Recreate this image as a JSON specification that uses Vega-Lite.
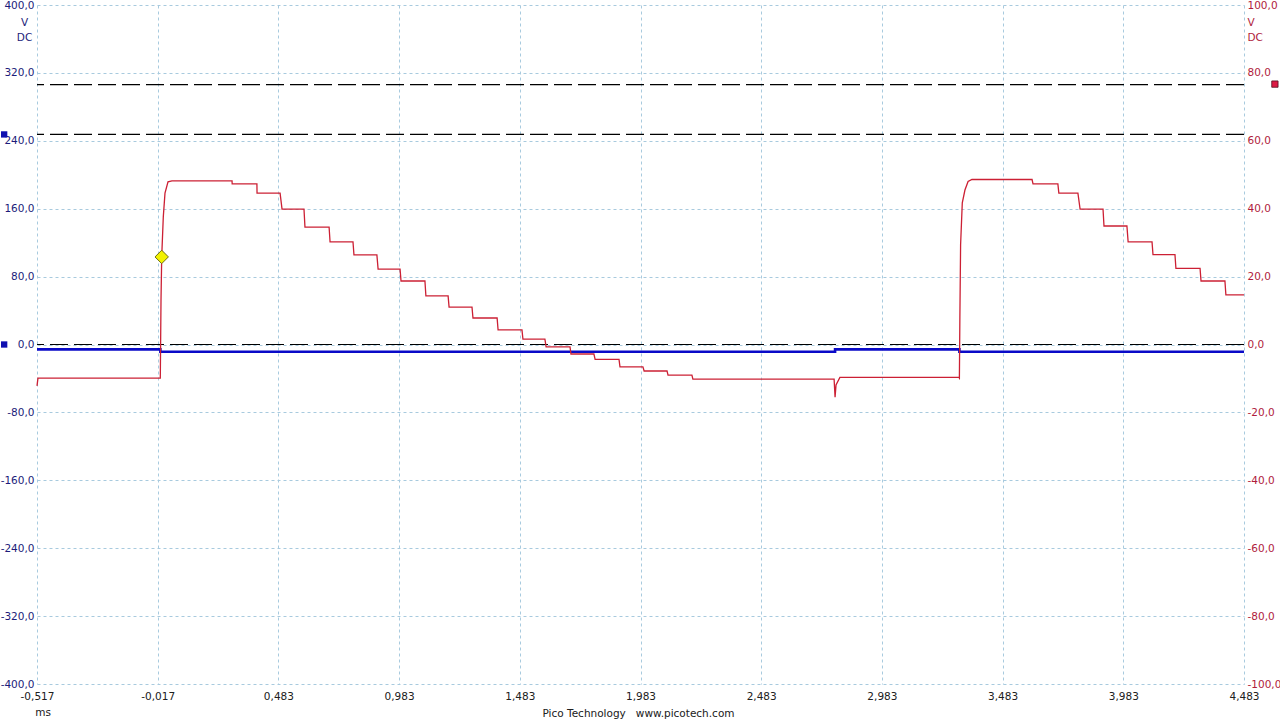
{
  "$schema": "https://vega.github.io/schema/vega-lite/v6.json",
  "width": 1207,
  "height": 679,
  "autosize": "none",
  "padding": {"left": 37, "top": 5, "right": 36, "bottom": 36},
  "background": "white",
  "config": {"view": {"stroke": null}, "font": "DejaVu Sans"},
  "datasets": {
    "red": [
      {"t": -0.517, "v": -12.2}, {"t": -0.513, "v": -9.9}, {"t": -0.0062, "v": -9.9},
      {"t": -0.0033, "v": 13.1}, {"t": -0.0004, "v": 25.8}, {"t": 0.0062, "v": 37.6},
      {"t": 0.0132, "v": 44.6}, {"t": 0.0257, "v": 47.9}, {"t": 0.042, "v": 48.2},
      {"t": 0.291, "v": 48.2}, {"t": 0.2915, "v": 47.3}, {"t": 0.394, "v": 47.3},
      {"t": 0.3945, "v": 44.6}, {"t": 0.49, "v": 44.6}, {"t": 0.498, "v": 39.9},
      {"t": 0.589, "v": 39.9}, {"t": 0.593, "v": 34.6}, {"t": 0.693, "v": 34.6},
      {"t": 0.697, "v": 30.2}, {"t": 0.792, "v": 30.2}, {"t": 0.796, "v": 26.4},
      {"t": 0.891, "v": 26.4}, {"t": 0.896, "v": 22.2}, {"t": 0.987, "v": 22.2},
      {"t": 0.991, "v": 18.7}, {"t": 1.09, "v": 18.7}, {"t": 1.094, "v": 14.3},
      {"t": 1.186, "v": 14.3}, {"t": 1.19, "v": 11.0}, {"t": 1.285, "v": 11.0},
      {"t": 1.289, "v": 7.8}, {"t": 1.389, "v": 7.8}, {"t": 1.393, "v": 4.3},
      {"t": 1.492, "v": 4.3}, {"t": 1.496, "v": 1.6}, {"t": 1.587, "v": 1.6},
      {"t": 1.592, "v": -0.7}, {"t": 1.691, "v": -0.7}, {"t": 1.695, "v": -2.8},
      {"t": 1.79, "v": -2.8}, {"t": 1.795, "v": -4.4}, {"t": 1.894, "v": -4.4},
      {"t": 1.898, "v": -6.6}, {"t": 1.993, "v": -6.6}, {"t": 1.998, "v": -7.8},
      {"t": 2.093, "v": -7.8}, {"t": 2.097, "v": -9.0}, {"t": 2.196, "v": -9.0},
      {"t": 2.2, "v": -10.2}, {"t": 2.785, "v": -10.2}, {"t": 2.789, "v": -15.5},
      {"t": 2.793, "v": -11.9}, {"t": 2.809, "v": -9.7}, {"t": 3.302, "v": -9.7},
      {"t": 3.304, "v": -9.9}, {"t": 3.306, "v": 7.8}, {"t": 3.309, "v": 29.3},
      {"t": 3.316, "v": 41.7}, {"t": 3.327, "v": 45.5}, {"t": 3.34, "v": 48.0},
      {"t": 3.356, "v": 48.6}, {"t": 3.605, "v": 48.6}, {"t": 3.609, "v": 47.3},
      {"t": 3.712, "v": 47.3}, {"t": 3.716, "v": 44.6}, {"t": 3.795, "v": 44.6},
      {"t": 3.804, "v": 39.9}, {"t": 3.899, "v": 39.9}, {"t": 3.903, "v": 34.9},
      {"t": 3.998, "v": 34.9}, {"t": 4.003, "v": 30.2}, {"t": 4.102, "v": 30.2},
      {"t": 4.106, "v": 26.5}, {"t": 4.197, "v": 26.5}, {"t": 4.201, "v": 22.4},
      {"t": 4.301, "v": 22.4}, {"t": 4.305, "v": 18.7}, {"t": 4.404, "v": 18.7},
      {"t": 4.408, "v": 14.6}, {"t": 4.483, "v": 14.6}
    ],
    "blue": [
      {"t": -0.517, "v": -5.7}, {"t": -0.006, "v": -8.5}, {"t": 2.789, "v": -5.7},
      {"t": 3.304, "v": -8.5}, {"t": 4.483, "v": -8.5}
    ],
    "levels": [{"v": 306.3}, {"v": 247.5}, {"v": 0}],
    "blueMarkers": [{"t": -0.653, "v": 247.5}, {"t": -0.653, "v": 0}],
    "redMarker": [{"t": 4.611, "v": 76.7}],
    "trigger": [{"t": -0.0004, "v": 25.8}],
    "unit": [{"t": -0.492, "v": -434, "label": "ms"}]
  },
  "resolve": {"scale": {"y": "independent"}},
  "layer": [
    {
      "layer": [
        {
          "data": {"name": "blue"},
          "mark": {"type": "line", "interpolate": "step-after", "color": "#0a0ac8", "strokeWidth": 2.6},
          "encoding": {
            "x": {
              "field": "t", "type": "quantitative",
              "scale": {"domain": [-0.517, 4.483], "nice": false, "zero": false},
              "axis": {
                "values": [-0.517, -0.017, 0.483, 0.983, 1.483, 1.983, 2.483, 2.983, 3.483, 3.983, 4.483],
                "labelExpr": "replace(replace(format(datum.value, '.3f'), '.', ','), '\u2212', '-')",
                "labelFlush": false, "labelFont": "DejaVu Sans", "labelFontSize": 10.5,
                "labelColor": "#202020", "labelPadding": 7, "labelOverlap": false,
                "ticks": false, "domain": false,
                "grid": true, "gridColor": "#a8cade", "gridDash": [3, 3], "gridWidth": 1,
                "title": "Pico Technology\u00a0\u00a0\u00a0www.picotech.com",
                "titleFont": "DejaVu Sans", "titleFontSize": 10.5, "titleFontWeight": "normal",
                "titleColor": "#202020", "titleX": 601, "titleY": 29, "titleBaseline": "middle", "titleAlign": "center"
              }
            },
            "y": {
              "field": "v", "type": "quantitative",
              "scale": {"domain": [-400, 400], "nice": false, "zero": false},
              "axis": {
                "values": [-400, -320, -240, -160, -80, 0, 80, 160, 240, 320, 400],
                "labelExpr": "replace(replace(format(datum.value, '.1f'), '.', ','), '\u2212', '-')",
                "labelFlush": false, "labelFont": "DejaVu Sans", "labelFontSize": 10.5,
                "labelColor": "#1c1c7a", "labelPadding": 3, "labelOverlap": false,
                "ticks": false, "domain": false,
                "grid": true, "gridColor": "#a8cade", "gridDash": [3, 3], "gridWidth": 1,
                "title": ["V", "DC"], "titleAngle": 0, "titleX": -13, "titleY": 12,
                "titleAlign": "center", "titleBaseline": "top", "titleLineHeight": 15,
                "titleFont": "DejaVu Sans", "titleFontSize": 10.5, "titleFontWeight": "normal",
                "titleColor": "#1c1c7a"
              }
            }
          }
        },
        {
          "data": {"name": "levels"},
          "mark": {"type": "rule", "color": "#000000", "strokeWidth": 1.2, "strokeDash": [18, 6]},
          "encoding": {
            "y": {"field": "v", "type": "quantitative", "scale": {"domain": [-400, 400], "nice": false, "zero": false}}
          }
        },
        {
          "data": {"name": "blueMarkers"},
          "mark": {"type": "point", "shape": "square", "filled": true, "size": 40, "color": "#1010b0", "opacity": 1, "clip": false},
          "encoding": {
            "x": {"field": "t", "type": "quantitative", "scale": {"domain": [-0.517, 4.483], "nice": false, "zero": false}},
            "y": {"field": "v", "type": "quantitative", "scale": {"domain": [-400, 400], "nice": false, "zero": false}}
          }
        },
        {
          "data": {"name": "unit"},
          "mark": {"type": "text", "font": "DejaVu Sans", "fontSize": 10.5, "color": "#202020", "clip": false, "baseline": "middle", "align": "center"},
          "encoding": {
            "x": {"field": "t", "type": "quantitative", "scale": {"domain": [-0.517, 4.483], "nice": false, "zero": false}},
            "y": {"field": "v", "type": "quantitative", "scale": {"domain": [-400, 400], "nice": false, "zero": false}},
            "text": {"field": "label"}
          }
        }
      ]
    },
    {
      "layer": [
        {
          "data": {"name": "red"},
          "mark": {"type": "line", "color": "#cc2034", "strokeWidth": 1.3},
          "encoding": {
            "x": {"field": "t", "type": "quantitative", "scale": {"domain": [-0.517, 4.483], "nice": false, "zero": false}},
            "y": {
              "field": "v", "type": "quantitative",
              "scale": {"domain": [-100, 100], "nice": false, "zero": false},
              "axis": {
                "orient": "right",
                "values": [-100, -80, -60, -40, -20, 0, 20, 40, 60, 80, 100],
                "labelExpr": "replace(replace(format(datum.value, '.1f'), '.', ','), '\u2212', '-')",
                "labelFlush": false, "labelFont": "DejaVu Sans", "labelFontSize": 10.5,
                "labelColor": "#b01c3c", "labelPadding": 3, "labelOverlap": false,
                "ticks": false, "domain": false, "grid": false,
                "title": ["V", "DC"], "titleAngle": 0, "titleX": 3, "titleY": 12,
                "titleAlign": "left", "titleBaseline": "top", "titleLineHeight": 15,
                "titleFont": "DejaVu Sans", "titleFontSize": 10.5, "titleFontWeight": "normal",
                "titleColor": "#b01c3c"
              }
            }
          }
        },
        {
          "data": {"name": "trigger"},
          "mark": {"type": "point", "shape": "diamond", "filled": true, "size": 180, "fill": "#f2f200", "stroke": "#6e6e10", "strokeWidth": 1, "opacity": 1},
          "encoding": {
            "x": {"field": "t", "type": "quantitative", "scale": {"domain": [-0.517, 4.483], "nice": false, "zero": false}},
            "y": {"field": "v", "type": "quantitative", "scale": {"domain": [-100, 100], "nice": false, "zero": false}}
          }
        },
        {
          "data": {"name": "redMarker"},
          "mark": {"type": "point", "shape": "square", "filled": true, "size": 40, "fill": "#dc1a44", "stroke": "#501020", "strokeWidth": 0.8, "opacity": 1, "clip": false},
          "encoding": {
            "x": {"field": "t", "type": "quantitative", "scale": {"domain": [-0.517, 4.483], "nice": false, "zero": false}},
            "y": {"field": "v", "type": "quantitative", "scale": {"domain": [-100, 100], "nice": false, "zero": false}}
          }
        }
      ]
    }
  ]
}
